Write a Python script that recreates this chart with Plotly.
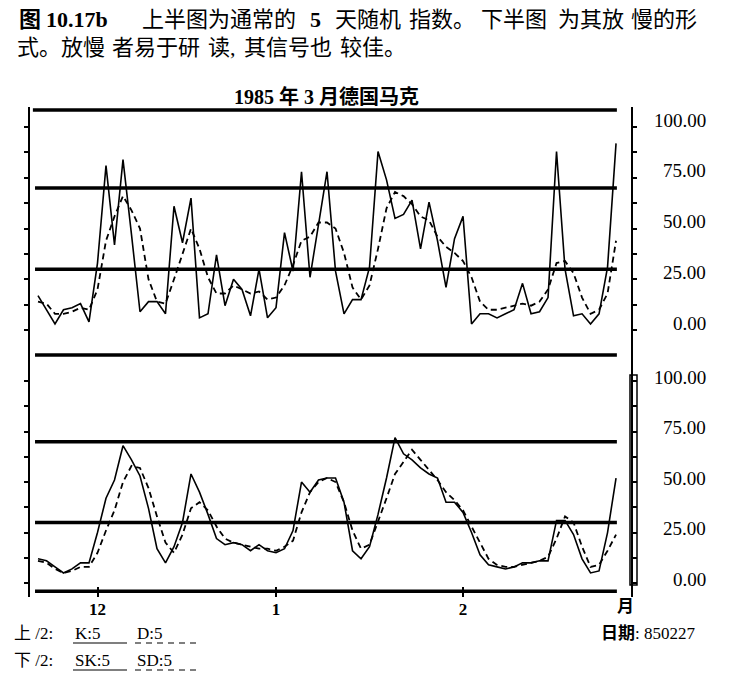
import plotly.graph_objects as go

# trading days from late Nov 1984 to 27 Feb 1985
days = list(range(69))
month_ticks = [7, 28, 50]
month_labels = ["12", "1", "2"]

# upper panel: normal 5-day stochastic
k_fast = [17, 10, 3, 10, 11, 13, 4, 33, 81, 42, 84, 47, 9, 14, 14, 8, 61, 43, 65, 6,
          8, 37, 12, 25, 20, 7, 30, 6, 11, 48, 29, 78, 26, 52, 78, 29, 8, 15, 15, 31,
          88, 74, 55, 57, 64, 40, 63, 44, 21, 45, 56, 3, 8, 8, 6, 8, 10, 23, 8, 9,
          16, 88, 30, 7, 8, 3, 8, 31, 92]
d_fast = [14, 13, 8, 8, 9, 11, 10, 20, 44, 56, 66, 59, 50, 25, 14, 13, 25, 38, 50, 40,
          26, 18, 18, 22, 20, 18, 19, 15, 16, 22, 32, 44, 46, 53, 53, 50, 38, 21, 15, 22,
          40, 60, 68, 66, 62, 56, 54, 46, 41, 38, 34, 26, 14, 10, 10, 11, 12, 13, 12, 14,
          20, 33, 34, 28, 16, 8, 10, 18, 44]

# lower panel: slowed stochastic
k_slow = [12, 11, 8, 5, 7, 10, 10, 25, 42, 51, 68, 61, 53, 37, 17, 10, 18, 30, 54, 45,
          34, 22, 19, 20, 19, 16, 19, 16, 15, 17, 26, 50, 45, 51, 52, 52, 40, 16, 12, 18,
          34, 52, 72, 64, 61, 57, 54, 52, 40, 40, 35, 25, 14, 9, 8, 7, 8, 10, 10, 11,
          11, 31, 31, 24, 12, 5, 6, 25, 52]
d_slow = [11, 10, 7, 5, 6, 8, 8, 15, 26, 36, 50, 58, 57, 47, 33, 20, 15, 24, 37, 40,
          36, 28, 22, 20, 19, 18, 17, 17, 16, 18, 21, 35, 45, 50, 52, 50, 40, 26, 17, 19,
          30, 42, 54, 60, 66, 61, 56, 51, 45, 41, 36, 28, 20, 12, 9, 8, 8, 9, 10, 11,
          13, 22, 33, 30, 18, 8, 9, 16, 24]

levels = [70, 30]
label_values = [100, 75, 50, 25, 0]
label_texts = ["100.00", "75.00", "50.00", "25.00", "0.00"]
tick_values = [0, 12.5, 25, 37.5, 50, 62.5, 75, 87.5, 100]

SERIF = "Liberation Serif, Noto Sans CJK SC"

# the page body adds an 8px margin, so the figure is drawn 8px smaller
OFF = 8
# plot area in pixels of the reference picture
L, R, T, B = 30, 631, 107, 597

UP_RANGE = [-12.3, 109.9]
LOW_RANGE = [-6.9, 112.9]


def px(x):
    return (x - L) / (R - L)


def py(y):
    return (B - y) / (B - T)


fig = go.Figure()

solid = dict(color="black", width=1.6)
dashed = dict(color="black", width=1.8, dash="6px,4px")

fig.add_trace(go.Scatter(x=days, y=k_fast, mode="lines", line=solid, xaxis="x", yaxis="y"))
fig.add_trace(go.Scatter(x=days, y=d_fast, mode="lines", line=dashed, xaxis="x", yaxis="y"))
fig.add_trace(go.Scatter(x=days, y=k_slow, mode="lines", line=solid, xaxis="x", yaxis="y2"))
fig.add_trace(go.Scatter(x=days, y=d_slow, mode="lines", line=dashed, xaxis="x", yaxis="y2"))

# thick horizontal lines
thick = dict(color="black", width=3.5)
for lv in levels:
    fig.add_shape(type="line", xref="x", yref="y", x0=-0.35, x1=68.1, y0=lv, y1=lv, line=thick)
    fig.add_shape(type="line", xref="x", yref="y2", x0=-0.35, x1=68.1, y0=lv, y1=lv, line=thick)
fig.add_shape(type="line", xref="x", yref="y", x0=-0.6, x1=68.1, y0=108.4, y1=108.4, line=thick)
fig.add_shape(type="line", xref="x", yref="paper", x0=-0.35, x1=68.1, y0=py(355), y1=py(355), line=thick)
fig.add_shape(type="line", xref="x", yref="y2", x0=-0.35, x1=68.1, y0=-4, y1=-4, line=thick)

# narrow box beside the lower right scale
fig.add_shape(type="rect", xref="paper", yref="y2", x0=px(630), x1=px(637), y0=-1, y1=103,
              line=dict(color="black", width=1.5))

annotations = []
for v, t in zip(label_values, label_texts):
    annotations.append(dict(x=px(708), y=v, xref="paper", yref="y", text=t, showarrow=False,
                            xanchor="right", yanchor="middle", yshift=7,
                            font=dict(family=SERIF, size=19, color="black")))
    annotations.append(dict(x=px(708), y=v, xref="paper", yref="y2", text=t, showarrow=False,
                            xanchor="right", yanchor="middle", yshift=4,
                            font=dict(family=SERIF, size=19, color="black")))

# caption, placed piece by piece to follow the wide spacing of the print
head_font = dict(family=SERIF, size=22, color="black")
header = [
    ("<b>图</b>", 17, 19),
    ("<b>10.17b</b>", 44, 19),
    ("上半图为通常的", 140, 19),
    ("<b>5</b>", 308, 19),
    ("天随机", 333, 19),
    ("指数。", 407, 19),
    ("下半图", 479, 19),
    ("为其放", 556, 19),
    ("慢的形", 629, 19),
    ("式。放慢", 15, 47),
    ("者易于研", 110, 47),
    ("读,", 206, 47),
    ("其信号也", 242, 47),
    ("较佳。", 338, 47),
]
for text, x, y in header:
    annotations.append(dict(x=px(x), y=py(y), xref="paper", yref="paper", text=text,
                            showarrow=False, xanchor="left", yanchor="middle", font=head_font))

annotations.append(dict(x=px(326), y=py(97), xref="paper", yref="paper",
                        text="<b>1985 年 3 月德国马克</b>", showarrow=False,
                        xanchor="center", yanchor="middle",
                        font=dict(family=SERIF, size=20, color="black")))
annotations.append(dict(x=px(625), y=py(606), xref="paper", yref="paper", text="<b>月</b>",
                        showarrow=False, xanchor="center", yanchor="middle",
                        font=dict(family=SERIF, size=17, color="black")))

small = dict(family=SERIF, size=17, color="black")
footer = [
    ("上 /2:", 12, 633),
    ("K:5", 73, 633),
    ("D:5", 135, 633),
    ("下 /2:", 12, 660),
    ("SK:5", 73, 660),
    ("SD:5", 135, 660),
    ("<b>日期</b>: 850227", 599, 633),
]
for text, x, y in footer:
    annotations.append(dict(x=px(x), y=py(y), xref="paper", yref="paper", text=text,
                            showarrow=False, xanchor="left", yanchor="middle", font=small))

# underlines of the legend entries
for yy in (643, 670):
    fig.add_shape(type="line", xref="paper", yref="paper", x0=px(73), x1=px(127),
                  y0=py(yy), y1=py(yy), line=dict(color="black", width=1.2))
    fig.add_shape(type="line", xref="paper", yref="paper", x0=px(135), x1=px(200),
                  y0=py(yy), y1=py(yy), line=dict(color="black", width=1.2, dash="6px,5px"))

yaxis_style = dict(showline=True, linecolor="black", linewidth=2, mirror="ticks",
                   ticks="outside", ticklen=4, tickwidth=2, tickcolor="black",
                   tickmode="array", tickvals=tick_values, showticklabels=False,
                   showgrid=False, zeroline=False, fixedrange=True)
# second set of ticks pointing inwards, so each tick crosses the scale line
inner_style = dict(showline=False, mirror="ticks", ticks="inside", ticklen=4, tickwidth=2,
                   tickcolor="black", tickmode="array", tickvals=tick_values,
                   showticklabels=False, showgrid=False, zeroline=False, fixedrange=True)

fig.update_layout(
    width=753 - OFF,
    height=692 - OFF,
    margin=dict(l=L - OFF, r=753 - R, t=T - OFF, b=692 - B),
    paper_bgcolor="white",
    plot_bgcolor="white",
    showlegend=False,
    xaxis=dict(range=[-0.94, 69.76], anchor="y2", showline=False, showgrid=False,
               zeroline=False, tickmode="array", tickvals=month_ticks,
               ticktext=["<b>%s</b>" % m for m in month_labels],
               ticks="inside", ticklen=10, tickwidth=1.5, tickcolor="black",
               tickfont=dict(family=SERIF, size=17, color="black")),
    yaxis=dict(domain=[py(355), 1], range=UP_RANGE, **yaxis_style),
    yaxis2=dict(domain=[0, py(355)], range=LOW_RANGE, **yaxis_style),
    yaxis3=dict(overlaying="y", range=UP_RANGE, **inner_style),
    yaxis4=dict(overlaying="y2", range=LOW_RANGE, **inner_style),
    annotations=annotations,
)

fig.write_html("out.html")
